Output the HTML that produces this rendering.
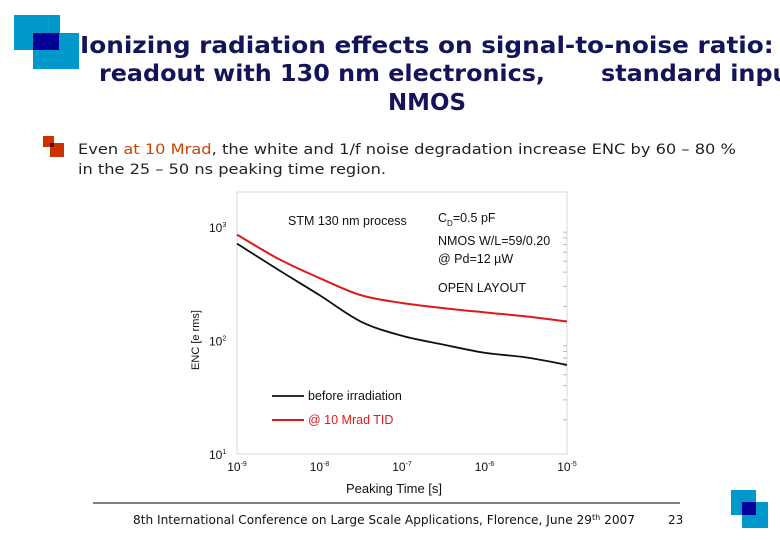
<!DOCTYPE html>
<html><head><meta charset="utf-8"><style>
html,body{margin:0;padding:0;background:#fff;overflow:hidden}
svg{display:block}
</style></head><body>
<svg id="page" width="780" height="540" viewBox="0 0 780 540" xmlns="http://www.w3.org/2000/svg" font-family="Liberation Sans, sans-serif">
  <g>
    <rect x="14" y="15" width="46" height="35" fill="#0099cc"/>
    <rect x="33" y="33" width="46" height="36" fill="#0099cc"/>
    <rect x="33" y="33" width="26" height="17" fill="#000099"/>
  </g>
  <g font-family="DejaVu Sans, sans-serif" font-weight="bold" font-size="23" fill="#14145a">
    <text x="80" y="53" textLength="720" lengthAdjust="spacingAndGlyphs">Ionizing radiation effects on signal-to-noise ratio: p</text>
    <text x="99" y="81" textLength="446" lengthAdjust="spacingAndGlyphs">readout with 130 nm electronics,</text>
    <text x="601" y="81" textLength="200" lengthAdjust="spacingAndGlyphs">standard input</text>
    <text x="388" y="110" textLength="78" lengthAdjust="spacingAndGlyphs">NMOS</text>
  </g>
  <g>
    <rect x="43" y="136" width="11" height="11" fill="#cc3300"/>
    <rect x="50" y="143" width="14" height="14" fill="#cc3300"/>
    <rect x="50" y="143" width="4" height="4" fill="#660000"/>
  </g>
  <g font-family="DejaVu Sans, sans-serif" font-size="14" fill="#222">
    <text x="78" y="154" textLength="658" lengthAdjust="spacingAndGlyphs">Even <tspan fill="#cc4400">at 10 Mrad</tspan>, the white and 1/f noise degradation increase ENC by 60 – 80 %</text>
    <text x="78" y="174" textLength="308" lengthAdjust="spacingAndGlyphs">in the 25 – 50 ns peaking time region.</text>
  </g>
  <g id="chart"></g>
  <line x1="93" y1="503" x2="680" y2="503" stroke="#000" stroke-width="1"/>
  <text x="133" y="524" font-family="DejaVu Sans, sans-serif" font-size="12" fill="#111" textLength="502" lengthAdjust="spacingAndGlyphs">8th International Conference on Large Scale Applications, Florence, June 29<tspan font-size="8" dy="-4">th</tspan><tspan dy="4"> 2007</tspan></text>
  <text x="668" y="524" font-family="DejaVu Sans, sans-serif" font-size="12" fill="#111">23</text>
  <g>
    <rect x="731" y="490" width="25" height="25" fill="#0099cc"/>
    <rect x="742" y="502" width="26" height="26" fill="#0099cc"/>
    <rect x="742" y="502" width="14" height="13" fill="#000099"/>
  </g>
</svg>
<script>
const xLogs = [-9, -8.5, -8, -7.5, -7, -6.5, -6, -5.5, -5];
const beforeValues = [714, 420, 251, 147, 110, 92, 78, 71, 61];
const tidValues = [857, 525, 355, 251, 214, 193, 177, 163, 147];
const xTickExps = [-9, -8, -7, -6, -5];
const yTickExps = [1, 2, 3];

const NS = 'http://www.w3.org/2000/svg';
const chart = document.getElementById('chart');
const X0 = 237, X1 = 567, YT = 192, YB = 454;
function xs(lg){ return X0 + (lg + 9) / 4 * (X1 - X0); }
function ys(v){ return YB - (Math.log10(v) - 1) / 2 * (YB - 227); }
function mk(tag, attrs, parent){
  const e = document.createElementNS(NS, tag);
  for (const k in attrs) e.setAttribute(k, attrs[k]);
  (parent || chart).appendChild(e);
  return e;
}
const frame = mk('rect', {x:X0, y:YT, width:X1-X0, height:YB-YT, fill:'none', stroke:'#d8d8d8', 'stroke-width':1});


for (let d = 1; d <= 2; d++) for (let m = 2; m <= 9; m++) {
  const y = ys(m * Math.pow(10, d));
  const t = mk('line', {x1:X1-4, x2:X1, y1:y, y2:y, stroke:'#bbb'});
  
  
}
xTickExps.forEach(e => {
  const x = xs(e);
  const t = mk('text', {x:x, y:471, 'font-size':12, 'text-anchor':'middle', fill:'#111'});
  
  
  t.innerHTML = '10<tspan font-size="7" dy="-5">' + e + '</tspan>';
});
yTickExps.forEach(e => {
  const y = ys(Math.pow(10, e));
  const t = mk('text', {x:209, y:y+5, 'font-size':12, fill:'#111'});
  
  
  t.innerHTML = '10<tspan font-size="7" dy="-5">' + e + '</tspan>';
});
const xl = mk('text', {x:394, y:493, 'font-size':13, 'text-anchor':'middle', fill:'#111'});


xl.textContent = 'Peaking Time [s]';
const yl = mk('text', {x:0, y:0, 'font-size':11, 'text-anchor':'middle', fill:'#111', transform:'translate(199,340) rotate(-90)'});


yl.textContent = 'ENC [e rms]';

function path(vals){
  const pts = xLogs.map((l,i)=>[xs(l), ys(vals[i])]);
  let d = 'M' + pts[0][0] + ',' + pts[0][1];
  for (let i = 0; i < pts.length - 1; i++) {
    const p0 = pts[Math.max(0,i-1)], p1 = pts[i], p2 = pts[i+1], p3 = pts[Math.min(pts.length-1,i+2)];
    const c1 = [p1[0]+(p2[0]-p0[0])/6, p1[1]+(p2[1]-p0[1])/6];
    const c2 = [p2[0]-(p3[0]-p1[0])/6, p2[1]-(p3[1]-p1[1])/6];
    d += ' C' + c1 + ' ' + c2 + ' ' + p2;
  }
  return d;
}
const l1 = mk('path', {d:path(beforeValues), fill:'none', stroke:'#111', 'stroke-width':1.8});


const l2 = mk('path', {d:path(tidValues), fill:'none', stroke:'#dd1a1a', 'stroke-width':2});



const ann = [['STM 130 nm process',288,225],['NMOS W/L=59/0.20',438,245],['@ Pd=12 µW',438,263],['OPEN LAYOUT',438,292]];
ann.forEach(a => {
  const t = mk('text', {x:a[1], y:a[2], 'font-size':12.5, fill:'#111'});
  
  
  t.textContent = a[0];
});
const cd = mk('text', {x:438, y:222, 'font-size':12.5, fill:'#111'});


cd.innerHTML = 'C<tspan font-size="8" dy="4">D</tspan><tspan dy="-4">=0.5 pF</tspan>';

const lg1 = mk('line', {x1:272, x2:304, y1:396, y2:396, stroke:'#111', 'stroke-width':1.8});


const lt1 = mk('text', {x:308, y:400, 'font-size':12.5, fill:'#111'});


lt1.textContent = 'before irradiation';
const lg2 = mk('line', {x1:272, x2:304, y1:420, y2:420, stroke:'#dd1a1a', 'stroke-width':2});


const lt2 = mk('text', {x:308, y:424, 'font-size':12.5, fill:'#dd1a1a'});


lt2.textContent = '@ 10 Mrad TID';
</script>
</body></html>
